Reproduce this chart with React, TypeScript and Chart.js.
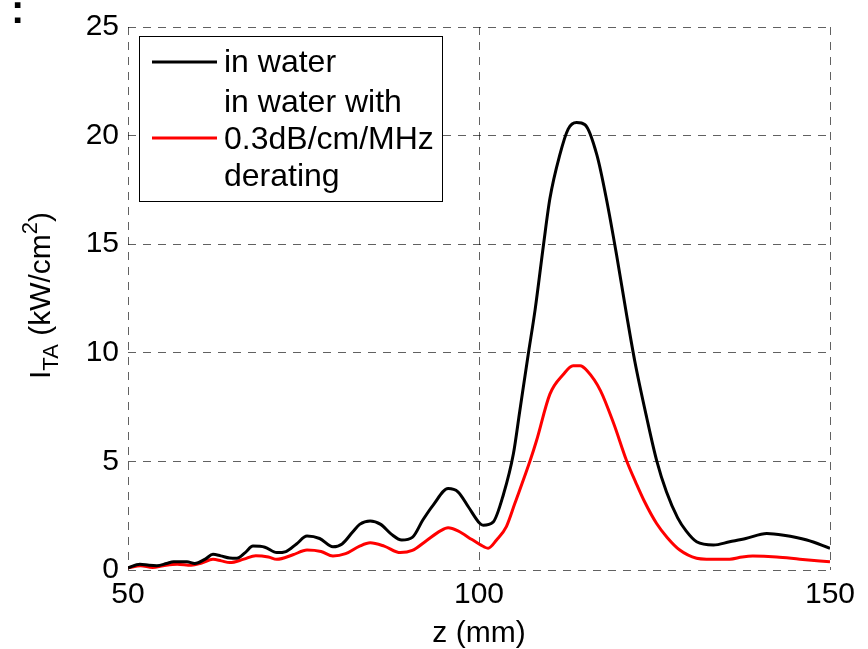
import React, { useEffect, useRef } from 'react';
import { Chart, registerables } from 'chart.js';

Chart.register(...registerables);

const FONT = "'Liberation Sans', Arial, Helvetica, sans-serif";

// Axial distance z (mm) and time-averaged intensity (kW/cm^2), in water
const zWater = [
  50, 51.7, 53, 54.1, 55.5, 56.5, 58.4, 59.5, 61, 62.1,
  63.2, 64.5, 65.5, 66.7, 67.8, 69.5, 71.2, 72.5, 74, 75.5,
  77.3, 79.2, 80.5, 82, 83, 84.5, 86, 87.5, 89, 90.5,
  92, 93.5, 95.6, 97, 98.5, 100.1, 100.6, 102, 103.5, 104.9,
  105.8, 107, 108, 109.2, 110.1, 111.5, 112.7, 113.9, 115.1, 116.8,
  118.2, 119.6, 121, 122.2, 123.9, 125.3, 126.7, 128.3, 129.5, 131,
  133.4, 135.7, 138, 141, 143.4, 146.7, 150,
];
const iWater = [
  0.1, 0.27, 0.22, 0.2, 0.3, 0.38, 0.38, 0.3, 0.5, 0.72,
  0.65, 0.55, 0.54, 0.8, 1.1, 1.05, 0.8, 0.85, 1.2, 1.56,
  1.45, 1.07, 1.2, 1.75, 2.1, 2.26, 2.1, 1.65, 1.38, 1.5,
  2.3, 3.0, 3.75, 3.6, 2.9, 2.15, 2.06, 2.2, 3.5, 5.35,
  7.3, 9.9, 12.0, 15.0, 17.1, 19.1, 20.3, 20.6, 20.5, 19.1,
  17.0, 14.5, 11.8, 9.6, 7.0, 5.05, 3.6, 2.4, 1.8, 1.3,
  1.15, 1.3, 1.45, 1.68, 1.6, 1.38, 1.0,
];

// In water with 0.3 dB/cm/MHz derating
const zDerated = [
  50, 51.8, 53.5, 55, 57, 59, 60.5, 62.1, 63.3, 64.5,
  66.5, 68.2, 70, 71.2, 73.5, 75.5, 77.5, 79.2, 81, 83,
  84.5, 86.5, 88.8, 90.5, 92.5, 94.5, 95.6, 97, 99, 100.8,
  101.3, 102.5, 103.9, 105.1, 107.3, 108.2, 110.1, 112, 113.4, 114.4,
  115.4, 117.3, 119.2, 121, 122.4, 123.5, 125.3, 126.8, 128.6, 131,
  132.4, 135.7, 137.5, 139, 142.4, 145.7, 150,
];
const iDerated = [
  0.1, 0.2, 0.12, 0.2, 0.27, 0.22, 0.32, 0.49, 0.42, 0.34,
  0.5, 0.66, 0.6, 0.49, 0.7, 0.92, 0.85, 0.64, 0.75, 1.1,
  1.25, 1.1, 0.8, 0.9, 1.35, 1.8, 1.94, 1.8, 1.4, 1.05,
  1.0, 1.38, 2.0, 3.06, 5.05, 5.96, 8.1, 9.0, 9.4, 9.4,
  9.17, 8.26, 6.73, 5.05, 3.98, 3.2, 2.14, 1.5, 0.92, 0.54,
  0.5, 0.5, 0.6, 0.64, 0.6, 0.5, 0.38,
];

const X_MIN = 50;
const X_MAX = 150;
const X_STEP = 50;
const Y_MIN = 0;
const Y_MAX = 25;
const Y_STEP = 5;

const legendWater = ['in water'];
const legendDerated = ['in water with', '0.3dB/cm/MHz', 'derating'];
const xTitle = 'z (mm)';
const yTitleMain = 'I';
const yTitleSub = 'TA';
const yTitleUnit = ' (kW/cm';
const yTitleSup = '2';
const yTitleEnd = ')';
const panelMark = ':';

export default function App() {
  const ref = useRef<HTMLCanvasElement>(null);

  useEffect(() => {
    const canvas = ref.current;
    if (!canvas) return;

    const overlay = {
      id: 'overlay',
      afterDraw(chart: any) {
        const ctx = chart.ctx as CanvasRenderingContext2D;
        const area = chart.chartArea;
        ctx.save();

        // Legend box
        const bx = 139.5, by = 36.5, bw = 303, bh = 165;
        ctx.fillStyle = '#fff';
        ctx.fillRect(bx, by, bw, bh);
        ctx.strokeStyle = '#000';
        ctx.lineWidth = 1;
        ctx.setLineDash([]);
        ctx.strokeRect(bx, by, bw, bh);

        ctx.lineWidth = 3;
        ctx.strokeStyle = '#000';
        ctx.beginPath();
        ctx.moveTo(152, 62);
        ctx.lineTo(217, 62);
        ctx.stroke();
        ctx.strokeStyle = '#ff0000';
        ctx.beginPath();
        ctx.moveTo(152, 138);
        ctx.lineTo(217, 138);
        ctx.stroke();

        ctx.fillStyle = '#000';
        ctx.font = `32px ${FONT}`;
        ctx.textAlign = 'left';
        ctx.textBaseline = 'alphabetic';
        ctx.fillText(legendWater[0], 224, 72);
        ctx.fillText(legendDerated[0], 224, 112);
        ctx.fillText(legendDerated[1], 224, 149);
        ctx.fillText(legendDerated[2], 224, 186);

        // Y axis title with subscript and superscript
        const mainSize = 30;
        const smallSize = 22;
        const mainFont = `${mainSize}px ${FONT}`;
        const smallFont = `${smallSize}px ${FONT}`;
        ctx.font = mainFont;
        const w1 = ctx.measureText(yTitleMain).width;
        const w3 = ctx.measureText(yTitleUnit).width;
        const w5 = ctx.measureText(yTitleEnd).width;
        ctx.font = smallFont;
        const w2 = ctx.measureText(yTitleSub).width;
        const w4 = ctx.measureText(yTitleSup).width;
        const total = w1 + w2 + w3 + w4 + w5;
        const cy = (area.top + area.bottom) / 2 - 3;
        ctx.translate(50, cy);
        ctx.rotate(-Math.PI / 2);
        let x = -total / 2;
        ctx.font = mainFont;
        ctx.fillText(yTitleMain, x, 0);
        x += w1;
        ctx.font = smallFont;
        ctx.fillText(yTitleSub, x, 8);
        x += w2;
        ctx.font = mainFont;
        ctx.fillText(yTitleUnit, x, 0);
        x += w3;
        ctx.font = smallFont;
        ctx.fillText(yTitleSup, x, -13);
        x += w4;
        ctx.font = mainFont;
        ctx.fillText(yTitleEnd, x, 0);
        ctx.restore();

        // Cropped panel mark at top-left
        ctx.save();
        ctx.fillStyle = '#000';
        ctx.font = `bold 40px ${FONT}`;
        ctx.textAlign = 'left';
        ctx.textBaseline = 'alphabetic';
        ctx.fillText(panelMark, 11, 23);
        ctx.restore();
      },
    };

    const gridColor = 'rgba(0,0,0,0.62)';
    const tickFont = { family: FONT, size: 30 };

    const chart = new Chart(canvas, {
      type: 'line',
      data: {
        datasets: [
          {
            label: legendWater.join(' '),
            data: zWater.map((z, i) => ({ x: z, y: iWater[i] })),
            borderColor: '#000000',
            borderWidth: 3,
            pointRadius: 0,
            fill: false,
            cubicInterpolationMode: 'monotone',
          },
          {
            label: legendDerated.join(' '),
            data: zDerated.map((z, i) => ({ x: z, y: iDerated[i] })),
            borderColor: '#ff0000',
            borderWidth: 3,
            pointRadius: 0,
            fill: false,
            cubicInterpolationMode: 'monotone',
          },
        ],
      },
      options: {
        responsive: false,
        animation: false,
        devicePixelRatio: 1,
        layout: { padding: { top: 25, right: 38, left: 0, bottom: 0 } },
        plugins: {
          legend: { display: false },
          tooltip: { enabled: false },
        },
        scales: {
          x: {
            type: 'linear',
            min: X_MIN,
            max: X_MAX,
            ticks: {
              stepSize: X_STEP,
              color: '#000',
              font: tickFont,
              padding: 7,
              maxRotation: 0,
              autoSkip: false,
            },
            grid: { color: gridColor, lineWidth: 1, drawTicks: false },
            border: { display: false, dash: [8, 7] },
            title: {
              display: true,
              text: xTitle,
              color: '#000',
              font: { family: FONT, size: 30, lineHeight: 1 },
              padding: 0,
            },
            afterFit(scale: any) {
              scale.height = 79;
            },
          },
          y: {
            type: 'linear',
            min: Y_MIN,
            max: Y_MAX,
            ticks: {
              stepSize: Y_STEP,
              color: '#000',
              font: tickFont,
              padding: 9,
            },
            grid: { color: gridColor, lineWidth: 1, drawTicks: false },
            border: { display: false, dash: [8, 7] },
            afterFit(scale: any) {
              scale.width = 128;
            },
          },
        },
      },
      plugins: [overlay],
    } as any);

    return () => chart.destroy();
  }, []);

  return (
    <div style={{ position: 'fixed', left: 0, top: 0, width: 868, height: 649, background: '#fff' }}>
      <canvas ref={ref} width={868} height={649} style={{ display: 'block' }} />
    </div>
  );
}
